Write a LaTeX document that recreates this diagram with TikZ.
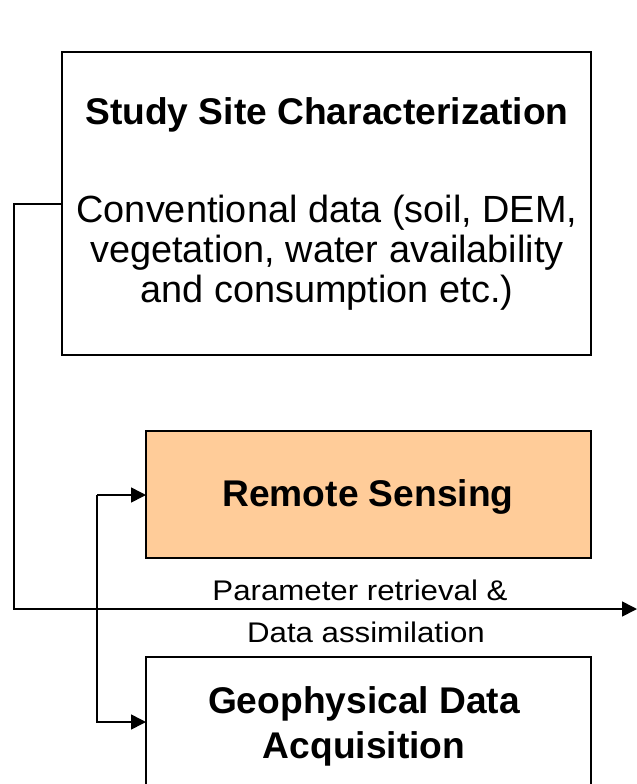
\documentclass[tikz,border=0pt]{standalone}
\usepackage{fontspec}
\setmainfont{Liberation Sans}
\usetikzlibrary{arrows.meta}
\definecolor{rsfill}{RGB}{255,204,153}
\tikzset{
  box/.style={draw=black, line width=1.8bp},
  conn/.style={draw=black, line width=1.6bp},
  tip/.style={-{Triangle[length=15bp,width=15bp]}},
  txt/.style={inner sep=0pt, align=center},
  head/.style={txt, font=\bfseries\fontsize{37.3}{45}\selectfont},
  body/.style={txt, font=\fontsize{38}{40}\selectfont}
}
\begin{document}
\begin{tikzpicture}[x=1bp, y=-1bp]
\useasboundingbox (0,0) rectangle (637,784);
% boxes
\draw[box] (62,52) rectangle (591,355);
\draw[box, fill=rsfill] (146,431) rectangle (591,558);
\draw[box] (146,657) rectangle (591,800);
\coordinate (site) at (62,204);
\coordinate (rs) at (146,495);
\coordinate (geo) at (146,722);
% labels
\node[head, anchor=base] (t1) at (327,124) {Study Site Characterization};
\node[body] (t2) at (327,253) {Conventional data (soil, DEM,\\vegetation, water availability\\and consumption etc.)};
\node[head] (t3) at (368,497) {Remote Sensing};
\node[head] (t4) at (364,726) {Geophysical Data\\Acquisition};
\node[txt, anchor=base] (t5) at (360,600) {\scalebox{1.1}[1]{\fontsize{28.5}{30}\selectfont Parameter retrieval \&}};
\node[txt, anchor=base] (t6) at (366,642) {\scalebox{1.1}[1]{\fontsize{28.5}{30}\selectfont Data assimilation}};
% connectors
\coordinate (l1) at (14,204);
\coordinate (l2) at (14,609);
\coordinate (out) at (637,609);
\draw[conn, tip] (site) -- (l1) -- (l2) -- (out);
\coordinate (b1) at (97,495);
\coordinate (b2) at (97,722);
\draw[conn, tip] (b1) -- (rs);
\draw[conn, tip] (b1) -- (b2) -- (geo);
\end{tikzpicture}
\end{document}
